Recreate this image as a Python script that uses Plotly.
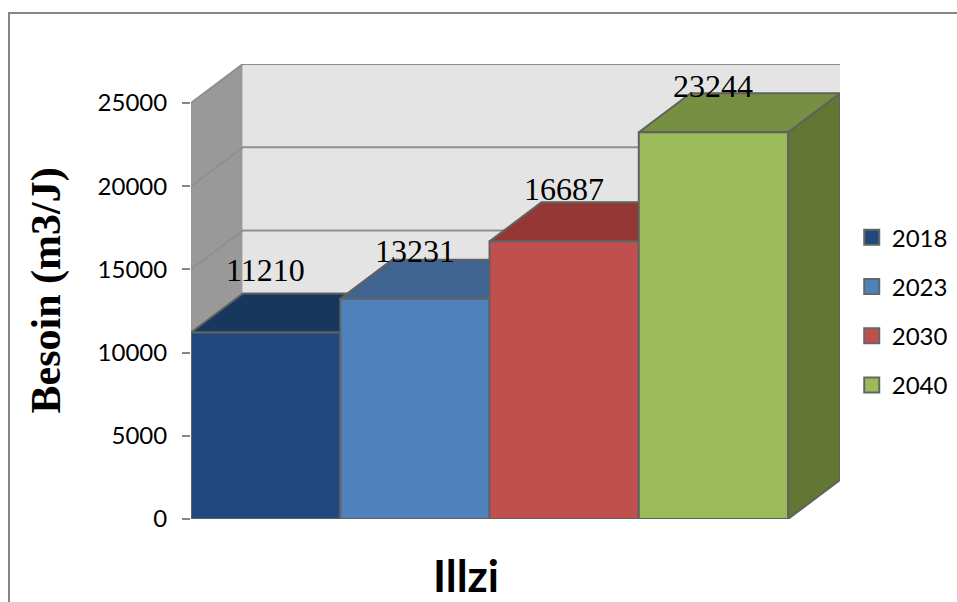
import plotly.graph_objects as go

annees = ['2018', '2023', '2030', '2040']
besoin = [11210, 13231, 16687, 23244]
y_ticks = [0, 5000, 10000, 15000, 20000, 25000]

front_colors = ['#1f497d', '#4f81bd', '#c0504d', '#9bbb59']
top_colors = ['#17375e', '#3f6491', '#953735', '#778f43']
side_colors = ['#17375e', '#3f6491', '#953735', '#647634']
edge = '#5f625f'

# fausse 3D: profondeur en unites d'axes
depth_x = 0.348
depth_y = 2344
y_max = 25000
label_shift = [62, 48, 52, 46]

fig = go.Figure()


def face(xs, ys, fill, line_color=edge, width=2):
    fig.add_trace(go.Scatter(
        x=xs, y=ys, mode='lines', fill='toself', fillcolor=fill,
        line=dict(color=line_color, width=width),
        hoverinfo='skip', showlegend=False
    ))


# murs du fond
face([0, depth_x, depth_x, 0, 0],
     [0, depth_y, y_max + depth_y, y_max, 0], '#999999', '#999999', 1)
face([depth_x, 4 + depth_x, 4 + depth_x, depth_x, depth_x],
     [depth_y, depth_y, y_max + depth_y, y_max + depth_y, depth_y], '#e4e4e4', '#e4e4e4', 1)

for t in y_ticks[1:]:
    fig.add_trace(go.Scatter(
        x=[0, depth_x, 4 + depth_x], y=[t, t + depth_y, t + depth_y], mode='lines',
        line=dict(color='#8f8f8f', width=2), hoverinfo='skip', showlegend=False
    ))

# barres, de gauche a droite pour que chacune recouvre la precedente
for i, v in enumerate(besoin):
    face([i + 1, i + 1 + depth_x, i + 1 + depth_x, i + 1, i + 1],
         [0, depth_y, v + depth_y, v, 0], side_colors[i])
    face([i, i + 1, i + 1 + depth_x, i + depth_x, i],
         [v, v, v + depth_y, v + depth_y, v], top_colors[i])
    face([i, i + 1, i + 1, i, i], [0, 0, v, v, 0], front_colors[i])

# legende
for i, a in enumerate(annees):
    fig.add_trace(go.Scatter(
        x=[None], y=[None], mode='markers', name=a, legendgroup=a,
        marker=dict(symbol='square', size=15, color=front_colors[i],
                    line=dict(color='#666666', width=2))
    ))

for i, v in enumerate(besoin):
    fig.add_annotation(
        x=i + 0.5, y=v, text=str(v), showarrow=False, yshift=label_shift[i],
        font=dict(family='Liberation Serif', size=32, color='black')
    )

fig.add_annotation(
    xref='paper', yref='paper', x=-0.222, y=0.502, xanchor='center', yanchor='middle',
    text='<b>Besoin (m3/J)</b>', textangle=-90, showarrow=False,
    font=dict(family='Liberation Serif', size=42, color='black')
)
fig.add_annotation(
    xref='paper', yref='paper', x=0.424, y=-0.122, xanchor='center', yanchor='middle',
    text='<b>Illzi</b>', showarrow=False,
    font=dict(family='Lato', size=44, color='black')
)

# cadre du graphique, coupe par le bord de la page
fig.add_shape(type='rect', xref='paper', yref='paper', x0=-0.2804, x1=1.3, y0=-0.3, y1=1.1121,
              line=dict(color='#868686', width=2))

fig.update_layout(
    width=957, height=602,
    margin=dict(l=191, r=117, t=64, b=83),
    paper_bgcolor='white', plot_bgcolor='white',
    font=dict(family='Lato', size=24, color='black'),
    legend=dict(xref='container', yref='container', x=0.89, xanchor='left', y=0.483, yanchor='middle',
                tracegroupgap=15, font=dict(family='Lato', size=24), traceorder='grouped',
                entrywidth=46, entrywidthmode='pixels',
                bgcolor='rgba(0,0,0,0)'),
    xaxis=dict(range=[0, 4 + depth_x], visible=False, fixedrange=True),
    yaxis=dict(range=[0, y_max + depth_y], tickvals=y_ticks, tickformat='d', showgrid=False,
               zeroline=False, showline=False, ticks='outside', ticklen=8, tickwidth=2,
               tickcolor='#868686', ticklabelstandoff=10,
               tickfont=dict(family='Lato', size=24), fixedrange=True),
)

fig.write_html("out.html", post_script="document.body.style.margin='0';", config=dict(displayModeBar=False))
